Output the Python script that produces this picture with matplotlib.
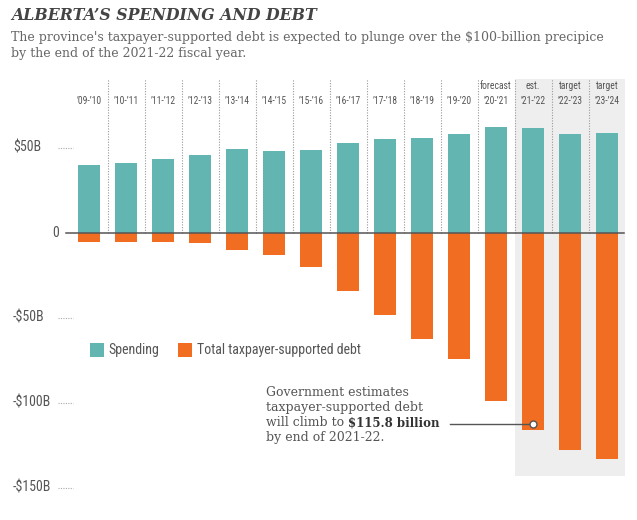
import matplotlib
matplotlib.use("Agg")
import matplotlib.pyplot as plt
from matplotlib.patches import Rectangle
from matplotlib import font_manager as fm

# ---------------- data ----------------
years = ["’09-’10", "’10-’11", "’11-’12", "’12-’13", "’13-’14", "’14-’15", "’15-’16",
         "’16-’17", "’17-’18", "’18-’19", "’19-’20", "’20-’21", "’21-’22", "’22-’23", "’23-’24"]
status = ["", "", "", "", "", "", "", "", "", "", "", "forecast", "est.", "target", "target"]
spending = [39.6, 41.0, 43.3, 45.7, 49.4, 48.2, 48.7, 52.8, 54.9, 55.9, 58.1, 62.2, 61.6, 58.1, 58.5]
debt = [5.3, 5.7, 5.5, 6.3, 10.2, 13.1, 20.2, 34.5, 48.4, 62.7, 74.1, 98.8, 115.8, 128.0, 132.9]
ytick_vals = [50, 0, -50, -100, -150]
ytick_labels = ["$50B", "0", "-$50B", "-$100B", "-$150B"]

TEAL = "#63b5b2"
ORANGE = "#f06d22"
GREY_TXT = "#555555"
SHADE = "#eeeeee"

W, H = 637, 520
fig = plt.figure(figsize=(W / 100, H / 100), dpi=100)
ax = fig.add_axes([0, 0, 1, 1])
renderer = fig.canvas.get_renderer()

# ---- font choice: prefer an installed condensed sans ----
names = {f.name for f in fm.fontManager.ttflist}
cond_family, cond_stretch = "DejaVu Sans", "normal"
for cand in ["Roboto Condensed", "Liberation Sans Narrow", "Open Sans Condensed",
             "Noto Sans Condensed", "DejaVu Sans Condensed", "Lato Condensed"]:
    if cand in names:
        cond_family = cand
        break
else:
    for f in fm.fontManager.ttflist:
        if f.name in ("DejaVu Sans", "Noto Sans", "Open Sans", "Roboto") and \
                str(f.stretch) in ("condensed", "semi-condensed", "extra-condensed", "ultra-condensed"):
            cond_family, cond_stretch = f.name, str(f.stretch)
            break
narrow = [cond_family, "DejaVu Sans"]
serif = ["DejaVu Serif"]


def fit_size(text, family, target_px, stretch="normal", weight="normal", style="normal", cap=None):
    t = fig.text(0, 0, text, fontsize=10, family=family, fontstretch=stretch,
                 fontweight=weight, fontstyle=style)
    w = t.get_window_extent(renderer).width
    t.remove()
    s = 10 * target_px / w
    if cap is not None:
        s = min(s, cap)
    return s


fs_legend = fit_size("Total taxpayer-supported debt", narrow, 164, cond_stretch, cap=11)
fs_tick = fit_size("-$150B", narrow, 39, cond_stretch, cap=10)
fs_year = fit_size("’18-’19", narrow, 25, cond_stretch, cap=7.5)
fs_sub = fit_size("The province's taxpayer-supported debt is expected to plunge over the $100-billion precipice",
                  serif, 596)
fs_ann = fit_size("taxpayer-supported debt", serif, 157)
fs_bold = fit_size("$115.8 billion", serif, 92, weight="bold")
fs_title = fit_size("ALBERTA’S SPENDING AND DEBT", serif, 305, weight="bold", style="italic")

# pixel mapping
X0, DX = 89.0, 37.0
Y0, DY = 232.7, 1.7
def dxp(px):
    return (px - X0) / DX
def dyp(py):
    return (Y0 - py) / DY
def fx(px):
    return px / W
def fy(py):
    return 1 - py / H

ax.set_xlim(dxp(0), dxp(W))
ax.set_ylim(dyp(H), dyp(0))
ax.axis("off")

n = len(years)
xs = list(range(n))

# shaded projection area
ax.add_patch(Rectangle((dxp(514.5), dyp(476)), dxp(625) - dxp(514.5), dyp(79) - dyp(476),
                       facecolor=SHADE, edgecolor="none", zorder=0))

# dotted column separators
for i in range(n - 1):
    ax.plot([i + 0.5, i + 0.5], [0, dyp(79)], color="#999999", lw=0.8,
            linestyle=(0, (1, 1.4)), zorder=1)

# bars
bw = 22 / DX
ax.bar(xs, spending, width=bw, color=TEAL, zorder=2)
ax.bar(xs, [-d for d in debt], width=bw, color=ORANGE, zorder=2)

# zero line
ax.plot([dxp(66), dxp(624)], [0, 0], color="#555555", lw=1.1, zorder=3)

# y ticks
for v, lab in zip(ytick_vals, ytick_labels):
    if v == 0:
        ax.text(dxp(59), v, lab, ha="right", va="center", fontsize=fs_tick,
                color=GREY_TXT, family=narrow, fontstretch=cond_stretch)
    else:
        ax.text(dxp(13), v, lab, ha="left", va="center", fontsize=fs_tick,
                color=GREY_TXT, family=narrow, fontstretch=cond_stretch)
        ax.plot([dxp(58), dxp(73)], [v, v], color="#aaaaaa", lw=0.8,
                linestyle=(0, (1, 1.2)), zorder=1)

# column labels
for i in xs:
    ax.text(i, dyp(101), years[i], ha="center", va="center", fontsize=fs_year,
            color=GREY_TXT, family=narrow, fontstretch=cond_stretch)
    if status[i]:
        ax.text(i, dyp(86), status[i], ha="center", va="center", fontsize=fs_year,
                color=GREY_TXT, family=narrow, fontstretch=cond_stretch)

# title & subtitle
fig.text(fx(11), fy(15), "ALBERTA’S SPENDING AND DEBT", ha="left", va="center",
         fontsize=fs_title, fontweight="bold", fontstyle="italic", color="#444444",
         family=serif)
fig.text(fx(11), fy(37), "The province's taxpayer-supported debt is expected to plunge over the $100-billion precipice",
         ha="left", va="center", fontsize=fs_sub, color="#666666", family=serif)
fig.text(fx(11), fy(53), "by the end of the 2021-22 fiscal year.",
         ha="left", va="center", fontsize=fs_sub, color="#666666", family=serif)

# legend
ax.add_patch(Rectangle((dxp(90), dyp(357)), dxp(104) - dxp(90), dyp(343) - dyp(357),
                       facecolor=TEAL, edgecolor="none", zorder=3))
ax.text(dxp(108), dyp(350), "Spending", ha="left", va="center", fontsize=fs_legend,
        color=GREY_TXT, family=narrow, fontstretch=cond_stretch)
ax.add_patch(Rectangle((dxp(178), dyp(357)), dxp(192) - dxp(178), dyp(343) - dyp(357),
                       facecolor=ORANGE, edgecolor="none", zorder=3))
ax.text(dxp(197), dyp(350), "Total taxpayer-supported debt", ha="left", va="center",
        fontsize=fs_legend, color=GREY_TXT, family=narrow, fontstretch=cond_stretch)

# annotation
ann_lines = ["Government estimates", "taxpayer-supported debt", "will climb to ", "by end of 2021-22."]
ann_y = [393, 408, 423, 438]
t3 = None
for s, py in zip(ann_lines, ann_y):
    t = fig.text(fx(266), fy(py), s, ha="left", va="center", fontsize=fs_ann,
                 color=GREY_TXT, family=serif)
    if s.startswith("will"):
        t3 = t
ax.annotate("$115.8 billion", xy=(1, 0.5), xycoords=t3, ha="left", va="center",
            fontsize=fs_bold, fontweight="bold", color="#333333", family=serif,
            annotation_clip=False)
ax.plot([dxp(450), dxp(531)], [dyp(424), dyp(424)], color="#555555", lw=1, zorder=4)
ax.plot([12], [dyp(424)], marker="o", markersize=5, markerfacecolor="white",
        markeredgecolor="#555555", markeredgewidth=1, zorder=5)

fig.savefig("out.png", dpi=100)
